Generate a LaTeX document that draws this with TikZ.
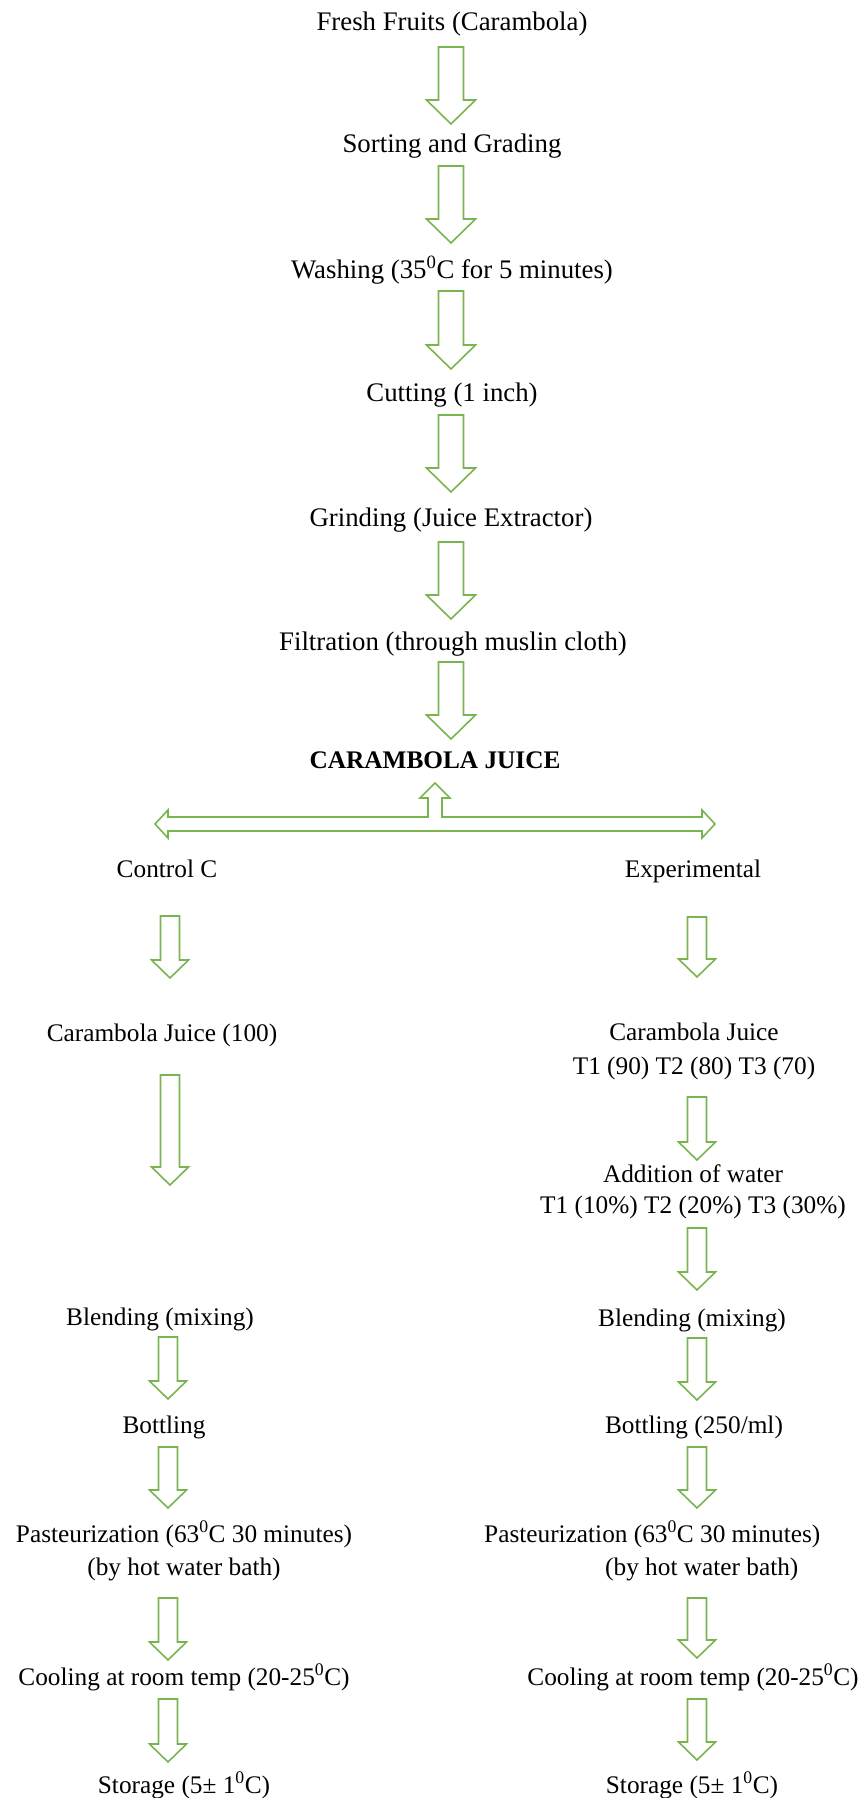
\documentclass[tikz,border=0pt]{standalone}
\usepackage{fontspec}
\setmainfont{Liberation Serif}
\usetikzlibrary{calc}
\definecolor{arrgreen}{RGB}{122,180,80}
\tikzset{
  topfont/.style={font=\fontsize{26.8}{33}\selectfont},
  brfont/.style={font=\fontsize{25.3}{33}\selectfont},
  lbl/.style={inner sep=0pt, anchor=base},
  blk/.style={draw=arrgreen, line width=1.6pt, fill=white, line join=miter},
}
\newcommand\twoline[2]{\begin{tabular}[t]{@{}c@{}}#1\\#2\end{tabular}}
\newcommand\blockdown[5]{%
  \draw[blk] let \p1=(#1), \p2=(#2) in
   (\x1-#3pt,\y1) -- (\x1+#3pt,\y1) -- (\x1+#3pt,\y2+#5pt) -- (\x1+#4pt,\y2+#5pt)
   -- (\x2,\y2) -- (\x1-#4pt,\y2+#5pt) -- (\x1-#3pt,\y2+#5pt) -- cycle;}
\newcommand\toparrow[2]{\blockdown{#1}{#2}{12.5}{24.5}{24}}
\newcommand\brarrow[2]{\blockdown{#1}{#2}{9.5}{18.5}{18}}
\begin{document}
\begin{tikzpicture}[x=1pt,y=-1pt]
\useasboundingbox (0,0) rectangle (861,1798);
% main column
\node[lbl,topfont] (fresh) at (452,31) {Fresh Fruits (Carambola)};
\node[lbl,topfont] (sort) at (452,153) {Sorting and Grading};
\node[lbl,topfont] (wash) at (452,278) {Washing (35\textsuperscript{0}C for 5 minutes)};
\node[lbl,topfont] (cut) at (452,401) {Cutting (1 inch)};
\node[lbl,topfont] (grind) at (451,526) {Grinding (Juice Extractor)};
\node[lbl,topfont] (filt) at (453,650) {Filtration (through muslin cloth)};
\node[lbl,font={\fontsize{25.3}{33}\selectfont\bfseries}] (cj) at (435,768) {CARAMBOLA JUICE};
% branches
\node[lbl,brfont] (ctrl) at (167,877) {Control C};
\node[lbl,brfont] (exp) at (693,877) {Experimental};
\node[lbl,brfont] (cj100) at (162,1041) {Carambola Juice (100)};
\node[lbl,font={\fontsize{25.3}{34}\selectfont}] (cjT) at (694,1040) {\twoline{Carambola Juice}{T1 (90) T2 (80) T3 (70)}};
\node[lbl,font={\fontsize{25.3}{31}\selectfont}] (add) at (693,1182) {\twoline{Addition of water}{T1 (10\%) T2 (20\%) T3 (30\%)}};
\node[lbl,brfont] (blendL) at (160,1325) {Blending (mixing)};
\node[lbl,brfont] (blendR) at (692,1326) {Blending (mixing)};
\node[lbl,brfont] (bottL) at (164,1433) {Bottling};
\node[lbl,brfont] (bottR) at (694,1433) {Bottling (250/ml)};
\node[lbl,brfont] (pastL) at (184,1542) {\twoline{Pasteurization (63\textsuperscript{0}C 30 minutes)}{(by hot water bath)}};
\node[lbl,brfont,anchor=base west] (pastR) at (484,1542) {\begin{tabular}[t]{@{}l@{}}Pasteurization (63\textsuperscript{0}C 30 minutes)\\\hspace*{121pt}(by hot water bath)\end{tabular}};
\node[lbl,brfont] (coolL) at (184,1685) {Cooling at room temp (20-25\textsuperscript{0}C)};
\node[lbl,brfont] (coolR) at (693,1685) {Cooling at room temp (20-25\textsuperscript{0}C)};
\node[lbl,brfont] (storL) at (184,1793) {Storage (5± 1\textsuperscript{0}C)};
\node[lbl,brfont] (storR) at (692,1793) {Storage (5± 1\textsuperscript{0}C)};
% top arrows
\coordinate (t1s) at (451,47);  \coordinate (t1e) at (451,124);
\coordinate (t2s) at (451,166); \coordinate (t2e) at (451,243);
\coordinate (t3s) at (451,291); \coordinate (t3e) at (451,369);
\coordinate (t4s) at (451,415); \coordinate (t4e) at (451,492);
\coordinate (t5s) at (451,542); \coordinate (t5e) at (451,619);
\coordinate (t6s) at (451,662); \coordinate (t6e) at (451,739);
\toparrow{t1s}{t1e}
\toparrow{t2s}{t2e}
\toparrow{t3s}{t3e}
\toparrow{t4s}{t4e}
\toparrow{t5s}{t5e}
\toparrow{t6s}{t6e}
% hub arrow
\coordinate (hubL) at (155,824);
\coordinate (hubR) at (715,824);
\coordinate (hubU) at (435,783);
\draw[blk] (hubL) -- (168,810) -- (168,817) -- (428,817) -- (428,798) -- (420,798)
  -- (hubU) -- (450,798) -- (442,798) -- (442,817) -- (702,817) -- (702,810)
  -- (hubR) -- (702,838) -- (702,831) -- (168,831) -- (168,838) -- cycle;
% left column arrows
\coordinate (l1s) at (170,916);  \coordinate (l1e) at (170,978);
\coordinate (l2s) at (170,1075); \coordinate (l2e) at (170,1185);
\coordinate (l3s) at (168,1337); \coordinate (l3e) at (168,1399);
\coordinate (l4s) at (168,1447); \coordinate (l4e) at (168,1508);
\coordinate (l5s) at (168,1598); \coordinate (l5e) at (168,1660);
\coordinate (l6s) at (168,1699); \coordinate (l6e) at (168,1762);
\brarrow{l1s}{l1e}
\brarrow{l2s}{l2e}
\brarrow{l3s}{l3e}
\brarrow{l4s}{l4e}
\brarrow{l5s}{l5e}
\brarrow{l6s}{l6e}
% right column arrows
\coordinate (r1s) at (697,917);  \coordinate (r1e) at (697,977);
\coordinate (r2s) at (697,1097); \coordinate (r2e) at (697,1160);
\coordinate (r3s) at (697,1228); \coordinate (r3e) at (697,1290);
\coordinate (r4s) at (697,1338); \coordinate (r4e) at (697,1400);
\coordinate (r5s) at (697,1447); \coordinate (r5e) at (697,1508);
\coordinate (r6s) at (697,1598); \coordinate (r6e) at (697,1658);
\coordinate (r7s) at (697,1699); \coordinate (r7e) at (697,1760);
\brarrow{r1s}{r1e}
\brarrow{r2s}{r2e}
\brarrow{r3s}{r3e}
\brarrow{r4s}{r4e}
\brarrow{r5s}{r5e}
\brarrow{r6s}{r6e}
\brarrow{r7s}{r7e}
\end{tikzpicture}
\end{document}
